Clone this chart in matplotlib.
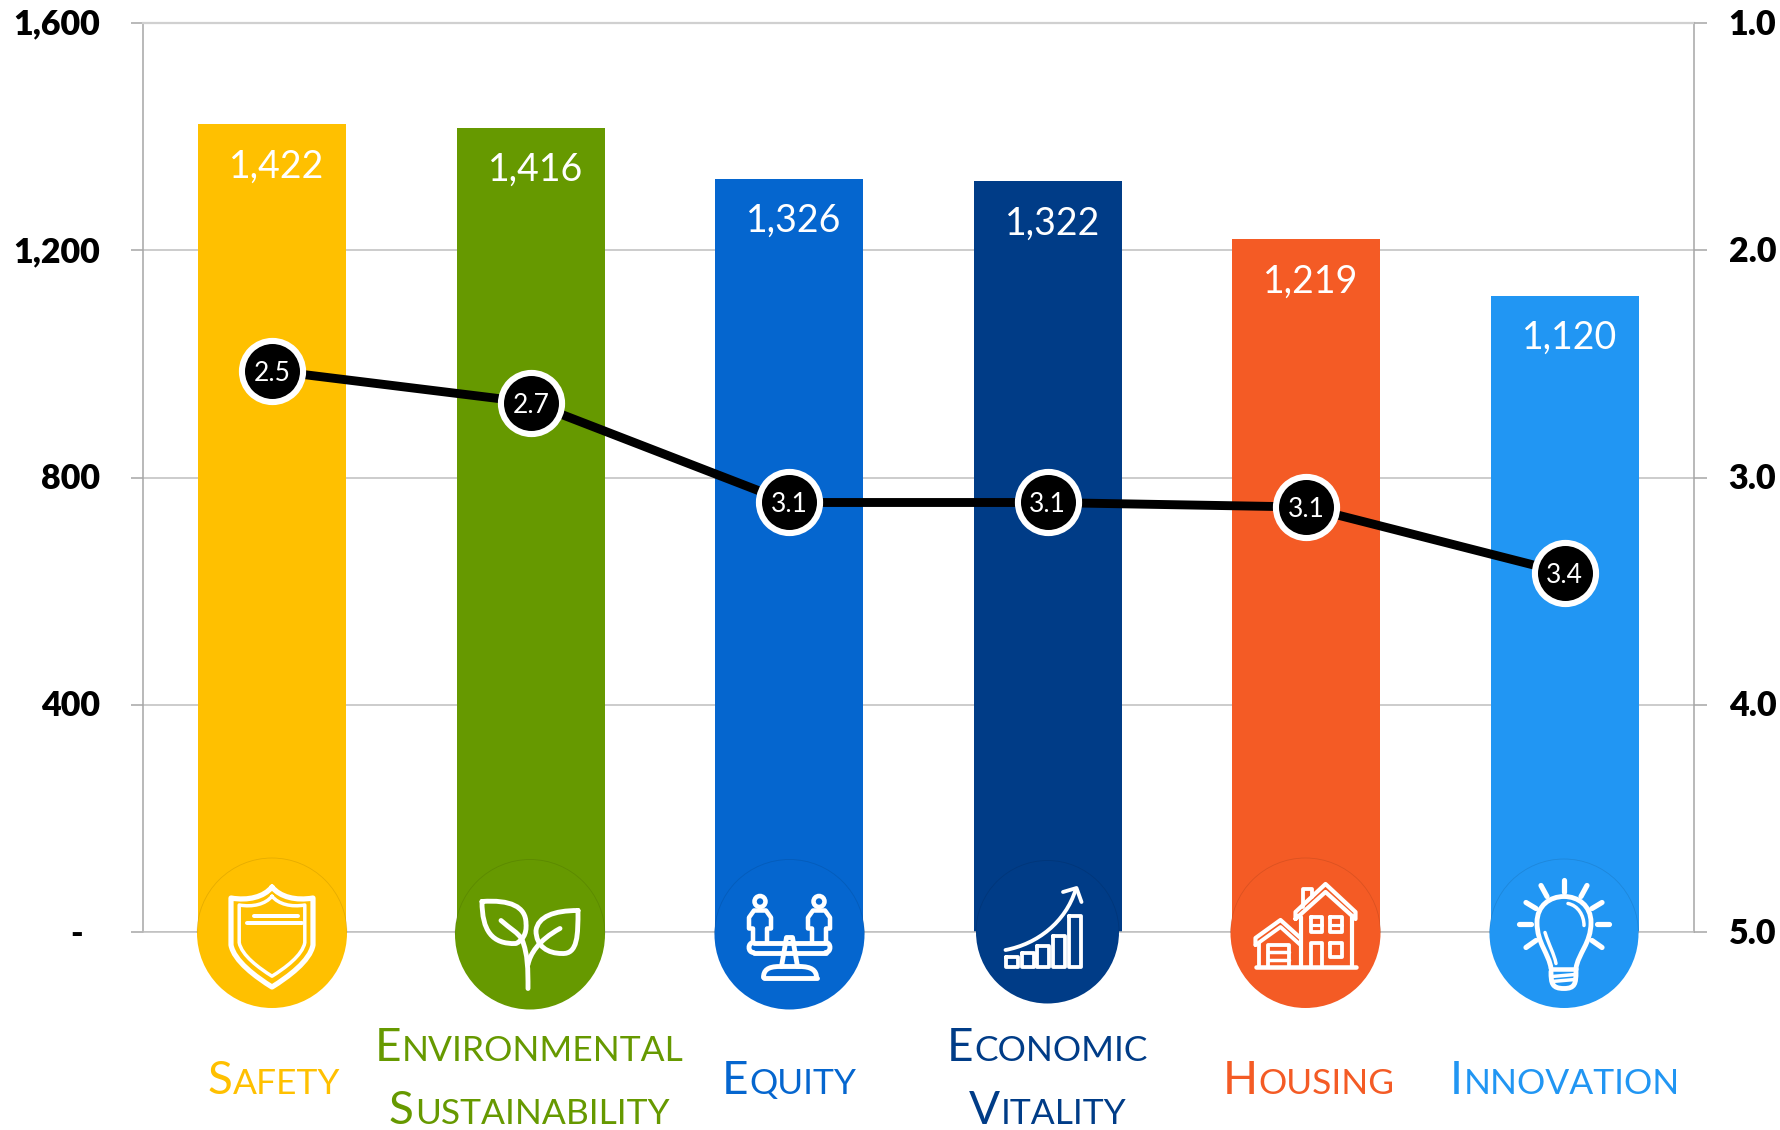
import numpy as np
import matplotlib
matplotlib.use("Agg")
import matplotlib.pyplot as plt
from matplotlib.patches import Arc, Circle, PathPatch
from matplotlib.path import Path
from matplotlib.transforms import ScaledTranslation

plt.rcParams["font.family"] = ["Lato", "DejaVu Sans"]

W, H = 1780, 1130

categories = ["Safety", "Environmental\nSustainability", "Equity", "Economic\nVitality", "Housing", "Innovation"]
counts = [1422, 1416, 1326, 1322, 1219, 1120]
scores = [2.53, 2.67, 3.11, 3.11, 3.13, 3.42]
score_labels = ["2.5", "2.7", "3.1", "3.1", "3.1", "3.4"]
bar_colors = ["#FFC000", "#669900", "#0566CF", "#003C87", "#F45B25", "#2196F3"]
left_ticks = [0, 400, 800, 1200, 1600]
left_ticklabels = ["-", "400", "800", "1,200", "1,600"]
right_ticks = [1, 2, 3, 4, 5]
right_ticklabels = ["1.0", "2.0", "3.0", "4.0", "5.0"]
# centre of each label line, relative to the badge centre, in px
label_shift = [[2], [-1, -1], [0], [0, 0], [3], [1]]

GRID = "#BFBFBF"
AXIS = "#A6A6A6"
ICON_LW = 1.25

fig = plt.figure(figsize=(W / 100, H / 100), dpi=100)
ax = fig.add_axes([143 / W, (H - 932) / H, (1694 - 143) / W, (932 - 23) / H])
x = np.arange(len(counts))

ax.bar(x, counts, width=148 / 258.5, color=bar_colors, zorder=2)
ax.set_xlim(-0.5, 5.5)
ax.set_ylim(0, 1600)
ax.set_xticks([])
ax.set_yticks(left_ticks)
ax.set_yticklabels(left_ticklabels, fontsize=24.5, fontweight="heavy", color="black")
ax.tick_params(axis="y", length=9, width=1.1, color=AXIS, pad=22)
ax.yaxis.grid(True, color=GRID, lw=1.1, zorder=0)
ax.set_axisbelow(True)
for s in ["left", "right"]:
    ax.spines[s].set_color(AXIS)
    ax.spines[s].set_linewidth(1.1)
ax.spines["top"].set_color("#D0D0D0")
ax.spines["top"].set_linewidth(1.6)
ax.spines["bottom"].set_color(GRID)
ax.spines["bottom"].set_linewidth(1.1)

# the "-" for zero sits further left than the other labels
lift = ScaledTranslation(0, 1 / 72, fig.dpi_scale_trans)
for lab in ax.get_yticklabels():
    lab.set_transform(lab.get_transform() + lift)
dash = ax.get_yticklabels()[0]
dash.set_transform(dash.get_transform() + ScaledTranslation(-12 / 72, 0, fig.dpi_scale_trans))

for i, v in enumerate(counts):
    ax.annotate(f"{v:,}", (x[i], v), xytext=(3.5, -30.5), textcoords="offset points",
                ha="center", va="center", color="white", fontsize=27, zorder=3)

ax2 = ax.twinx()
ax2.set_ylim(5, 1)
ax2.set_yticks(right_ticks)
ax2.set_yticklabels(right_ticklabels, fontsize=24.5, fontweight="heavy", color="black")
ax2.tick_params(axis="y", length=9, width=1.1, color=AXIS, pad=16)
for lab in ax2.get_yticklabels():
    lab.set_transform(lab.get_transform() + lift)
ax2.spines[["top", "bottom", "left", "right"]].set_visible(False)
ax2.plot(x, scores, color="black", lw=6.4, marker="o", ms=44, mfc="black",
         mec="white", mew=4.4, solid_capstyle="round", zorder=4)
for i, s in enumerate(score_labels):
    ax2.text(x[i], scores[i], s, color="white", fontsize=19, ha="center", va="center_baseline", zorder=5)

# overlay in reference pixels (y down) for the badges, icons and small caps labels
ov = fig.add_axes([0, 0, 1, 1])
ov.set_xlim(0, W)
ov.set_ylim(H, 0)
ov.axis("off")
ov.patch.set_alpha(0)


def stroke(verts, codes, lw=2.3, fc="none"):
    ov.add_patch(PathPatch(Path(verts, codes), fc=fc, ec="white", lw=lw * ICON_LW,
                           capstyle="round", joinstyle="round", zorder=6))


def line(cx, cy, pts, closed=False, lw=2.3):
    v = [(cx + a, cy + b) for a, b in pts]
    if closed:
        v.append(v[0])
    c = [Path.MOVETO] + [Path.LINETO] * (len(v) - 1)
    stroke(v, c, lw)


def curve(cx, cy, start, segs, closed=False, lw=2.3):
    # segs are (c1, c2, end) cubic pieces
    v = [(cx + start[0], cy + start[1])]
    c = [Path.MOVETO]
    for c1, c2, e in segs:
        v += [(cx + p[0], cy + p[1]) for p in (c1, c2, e)]
        c += [Path.CURVE4] * 3
    stroke(v, c, lw)


def rect(cx, cy, x0, y0, x1, y1, lw=2.3):
    line(cx, cy, [(x0, y0), (x1, y0), (x1, y1), (x0, y1)], True, lw)


def icon_shield(cx, cy):
    for k, t in ((1.0, 3.0), (0.8, 2.0)):
        curve(cx, cy, (0, -46 * k), [
            ((8 * k, -36 * k), (24 * k, -32 * k), (41 * k, -35 * k)),
            ((41 * k, -20 * k), (41 * k, -5 * k), (41 * k, 12 * k)),
            ((38 * k, 28 * k), (16 * k, 44 * k), (0, 54 * k)),
            ((-16 * k, 44 * k), (-38 * k, 28 * k), (-41 * k, 12 * k)),
            ((-41 * k, -5 * k), (-41 * k, -20 * k), (-41 * k, -35 * k)),
            ((-24 * k, -32 * k), (-8 * k, -36 * k), (0, -46 * k)),
        ], lw=t)
    line(cx, cy, [(-25, -10), (30, -10)], lw=2.3)
    line(cx, cy, [(-18, -17), (26, -17)], lw=2.3)


def icon_sprout(cx, cy):
    curve(cx, cy, (-48, -33), [
        ((-20, -35), (-4, -28), (-4, -11)),
        ((-3, 0), (-8, 6), (-14, 9)),
        ((-38, 10), (-48, -4), (-48, -33)),
    ], lw=2.8)
    curve(cx, cy, (48, -24), [
        ((48, 0), (48, 20), (32, 19)),
        ((18, 19), (6, 12), (6, -4)),
        ((8, -18), (24, -24), (48, -24)),
    ], lw=2.8)
    curve(cx, cy, (-2, 54), [((-2, 35), (-2, 20), (-8, 5)), ((-12, -2), (-20, -6), (-29, -14))], lw=2.8)
    curve(cx, cy, (-2, 30), [((0, 20), (8, 6), (30, -6))], lw=2.8)


def icon_scales(cx, cy):
    line(cx, cy, [(-36, 8), (36, 8)], lw=2.8)
    line(cx, cy, [(-36, 18), (36, 18)], lw=2.8)
    curve(cx, cy, (36, 8), [((42, 8), (42, 18), (36, 18))], lw=2.8)
    curve(cx, cy, (-36, 8), [((-42, 8), (-42, 18), (-36, 18))], lw=2.8)
    line(cx, cy, [(-8, 32), (-3, 3), (3, 3), (8, 32)], lw=2.8)
    curve(cx, cy, (-26, 43), [((-26, 36), (-22, 32), (-10, 32)), ((0, 32), (10, 32), (10, 32))], lw=2.8)
    curve(cx, cy, (27, 43), [((27, 36), (22, 32), (10, 32))], lw=2.8)
    line(cx, cy, [(-26, 43), (27, 43)], lw=2.8)
    for sx in (-29.5, 29.5):
        ov.add_patch(Circle((cx + sx, cy - 33), 5.5, fc="none", ec="white", lw=2.6 * ICON_LW, zorder=6))
        line(cx + sx, cy, [(-7, 8), (-7, -6), (-11, -6), (-11, -17), (-6, -24), (6, -24), (11, -17), (11, -6), (7, -6), (7, 8)], lw=2.6)


def icon_growth(cx, cy):
    for a, b, top in ((-42, -30, 25), (-26, -14, 21), (-11, 1, 14), (5, 17, 4), (21, 33, -16)):
        rect(cx, cy, a, top, b, 35, lw=2.2)
    curve(cx, cy, (-42, 18), [((-10, 12), (18, -10), (28, -42))], lw=2.2)
    line(cx, cy, [(15.5, -40), (29, -44), (34, -30)], lw=2.2)


def icon_house(cx, cy):
    line(cx, cy, [(-50, 34), (50, 34)], lw=2.6)
    line(cx, cy, [(-10, -14), (-10, -21), (20, -49), (50, -21), (50, -14), (20, -41), (-10, -14)], lw=2.4)
    line(cx, cy, [(-5, 34), (-5, -16)], lw=2.4)
    line(cx, cy, [(46, 34), (46, -16)], lw=2.4)
    line(cx, cy, [(-3, -26), (-3, -44), (6, -44), (6, -36)], lw=2.2)
    rect(cx, cy, 5, -16, 16, -1, lw=2.2)
    rect(cx, cy, 24, -16, 36, -1, lw=2.2)
    line(cx, cy, [(5, -8), (16, -8)], lw=1.8)
    line(cx, cy, [(24, -8), (36, -8)], lw=1.8)
    rect(cx, cy, 24, 10, 36, 24, lw=2.2)
    line(cx, cy, [(5, 34), (5, 10), (16, 10), (16, 34)], lw=2.2)
    line(cx, cy, [(-50, 12), (-50, 5), (-25, -13), (-5, 5)], lw=2.4)
    line(cx, cy, [(-50, 12), (-25, -6), (-5, 12)], lw=2.2)
    line(cx, cy, [(-47, 34), (-47, 10)], lw=2.2)
    line(cx, cy, [(-38, 34), (-38, 12), (-17, 12), (-17, 34)], lw=2.2)
    for yy in (19, 27):
        line(cx, cy, [(-38, yy), (-17, yy)], lw=2)


def icon_bulb(cx, cy):
    curve(cx, cy, (-13, 35), [
        ((-15, 20), (-27, 10), (-27, -11)),
        ((-27, -28), (-14, -37), (0, -37)),
        ((14, -37), (27, -28), (27, -11)),
        ((27, 10), (14, 20), (12, 35)),
    ], lw=2.8)
    line(cx, cy, [(-13, 35), (12, 35)], lw=2.6)
    curve(cx, cy, (-13, 38), [((-13, 50), (-12, 55), (0, 55)), ((11, 55), (12, 50), (12, 38))], lw=2.8)
    line(cx, cy, [(-12, 43), (11, 41)], lw=2)
    line(cx, cy, [(-12, 48), (11, 46)], lw=2)
    curve(cx, cy, (4, -30), [((14, -28), (20, -18), (20, -8))], lw=2)
    curve(cx, cy, (-19, -1), [((-15, 12), (-10, 20), (-8, 30))], lw=2)
    rays = [((0, -54), (0, -42)), ((-23, -48), (-17, -37)), ((23, -48), (17, -37)),
            ((-38, -31), (-28, -25)), ((38, -31), (28, -25)), ((-45, -9.5), (-33, -9.5)),
            ((45, -9.5), (33, -9.5)), ((-38, 14), (-28, 7)), ((38, 14), (28, 7))]
    for a, b in rays:
        line(cx, cy, [a, b], lw=3)


badges = [(272, 933, 75), (530, 934.5, 75), (789.5, 934.5, 75), (1047.5, 932, 71.5), (1305.5, 933, 75), (1564, 933.5, 74.5)]
icons = [icon_shield, icon_sprout, icon_scales, icon_growth, icon_house, icon_bulb]
for (cx, cy, r), col, icon in zip(badges, bar_colors, icons):
    ov.add_patch(Circle((cx, cy), r, fc=col, ec="none", zorder=5))
    # faint rim of the badge where it lies over its own bar
    ov.add_patch(Arc((cx, cy), 2 * r, 2 * r, theta1=180, theta2=360, ec=(0, 0, 0, 0.1), lw=0.6, zorder=5))
    icon(cx, cy)


def small_caps(word, xc, base, color, big=33, small=25.5, gap=1):
    rend = fig.canvas.get_renderer()
    a = ov.text(0, base, word[0], fontsize=big, color=color, va="baseline", ha="left", zorder=6)
    b = ov.text(0, base, word[1:].upper(), fontsize=small, color=color, va="baseline", ha="left", zorder=6)
    wa = a.get_window_extent(rend).width
    wb = b.get_window_extent(rend).width
    x0 = xc - (wa + gap + wb) / 2
    a.set_x(x0)
    b.set_x(x0 + wa + gap)


for i, cat in enumerate(categories):
    parts = cat.split("\n")
    bases = [1094] if len(parts) == 1 else [1061, 1124]
    for word, base, sh in zip(parts, bases, label_shift[i]):
        small_caps(word, badges[i][0] + sh, base, bar_colors[i])

fig.savefig("out.png", dpi=100)
